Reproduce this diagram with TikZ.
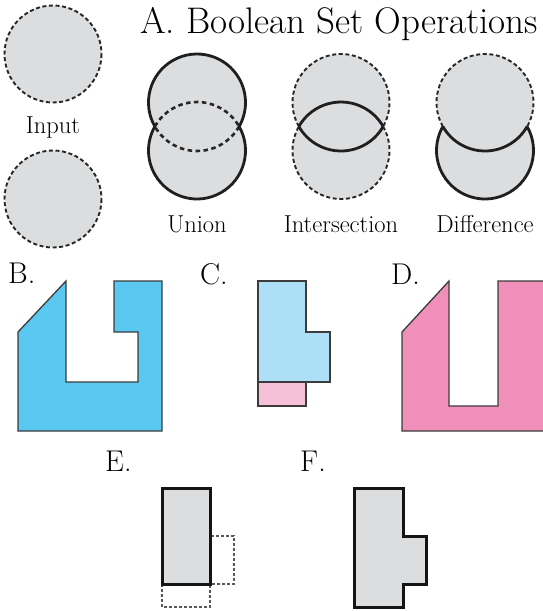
\documentclass[tikz,border=0pt]{standalone}
\definecolor{opgray}{HTML}{DCDDDF}
\definecolor{bblue}{HTML}{5BC8F2}
\definecolor{cblue}{HTML}{ADDFF6}
\definecolor{cpink}{HTML}{F6C0D8}
\definecolor{dpink}{HTML}{F08FBA}
\definecolor{edge}{HTML}{3C3C3C}
\tikzset{
  opfill/.style={fill=opgray},
  inputline/.style={draw=black!85, line width=1.9pt, dash pattern=on 4pt off 2.6pt},
  thinline/.style={draw=black!85, line width=1.9pt, dash pattern=on 4pt off 2.6pt},
  uniondash/.style={draw=black!85, line width=2.6pt, dash pattern=on 4.5pt off 3.5pt},
  solidline/.style={draw=black!88, line width=2.8pt},
  shapeline/.style={draw=edge, line width=1.3pt, line join=miter},
  boldline/.style={draw=black!92, line width=3pt, line join=miter},
  ghostline/.style={draw=black!65, line width=1.1pt, dash pattern=on 3pt off 2pt},
  lbl/.style={font=\fontsize{24.5}{29}\selectfont, anchor=base, inner sep=0pt},
  letter/.style={font=\fontsize{30}{36}\selectfont, anchor=base west, inner sep=0pt},
}
\begin{document}
\begin{tikzpicture}[x=1pt,y=-1pt]
\useasboundingbox (0,0) rectangle (542,611);

% Title
\node[font=\fontsize{37}{44}\selectfont, anchor=base west, inner sep=0pt] (title) at (140,33) {A. Boolean Set Operations};

% Input circles
\draw[opfill, inputline] (53,54) circle[radius=48.5];
\draw[opfill, inputline] (53,199) circle[radius=48.5];
\node[lbl] (input) at (53,133) {Input};

% Union (cx = 197)
\coordinate (uL) at (154.85,126.5);
\coordinate (uR) at (239.15,126.5);
\fill[opfill] (197,102.5) circle[radius=48.5];
\fill[opfill] (197,150.5) circle[radius=48.5];
\draw[uniondash] (uR) arc[start angle=29.66, end angle=150.34, radius=48.5];
\draw[uniondash] (uL) arc[start angle=209.66, end angle=330.34, radius=48.5];
\draw[solidline] (uL) arc[start angle=150.34, end angle=389.66, radius=48.5];
\draw[solidline] (uR) arc[start angle=-29.66, end angle=209.66, radius=48.5];
\node[lbl] (union) at (197,232) {Union};

% Intersection (cx = 341)
\coordinate (iL) at (298.85,126.5);
\coordinate (iR) at (383.15,126.5);
\fill[opfill] (341,102.5) circle[radius=48.5];
\fill[opfill] (341,150.5) circle[radius=48.5];
\draw[thinline] (iL) arc[start angle=150.34, end angle=389.66, radius=48.5];
\draw[thinline] (iR) arc[start angle=-29.66, end angle=209.66, radius=48.5];
\draw[solidline] (iR) arc[start angle=29.66, end angle=150.34, radius=48.5];
\draw[solidline] (iL) arc[start angle=209.66, end angle=330.34, radius=48.5];
\node[lbl] (inter) at (341,232) {Intersection};

% Difference (cx = 485)
\coordinate (dL) at (442.85,126.5);
\coordinate (dR) at (527.15,126.5);
\fill[opfill] (485,102.5) circle[radius=48.5];
\fill[opfill] (485,150.5) circle[radius=48.5];
\draw[thinline] (dL) arc[start angle=150.34, end angle=389.66, radius=48.5];
\draw[solidline] (dR) arc[start angle=29.66, end angle=150.34, radius=48.5];
\draw[solidline] (dR) arc[start angle=-29.66, end angle=209.66, radius=48.5];
\node[lbl] (diff) at (485,232) {Difference};

% B
\node[letter] (labB) at (8,283) {B.};
\draw[shapeline, fill=bblue] (18,332) -- (66,281) -- (66,382) -- (138,382) -- (138,332)
  -- (114,332) -- (114,281) -- (162,281) -- (162,431) -- (18,431) -- cycle;

% C
\node[letter] (labC) at (200,284) {C.};
\draw[shapeline, fill=cpink] (258,382) rectangle (306,406);
\draw[shapeline, fill=cblue] (258,281) -- (306,281) -- (306,332) -- (330,332) -- (330,382)
  -- (258,382) -- cycle;

% D
\node[letter] (labD) at (391,284) {D.};
\draw[shapeline, fill=dpink] (402,332) -- (449,281) -- (449,406) -- (498,406) -- (498,281)
  -- (547,281) -- (547,431) -- (402,431) -- cycle;

% E
\node[letter] (labE) at (105,471) {E.};
\draw[ghostline] (210,536) rectangle (234,584);
\draw[ghostline] (162,584) rectangle (210,607);
\draw[boldline, fill=opgray] (162,488) rectangle (210,584);

% F
\node[letter] (labF) at (300,471) {F.};
\draw[boldline, fill=opgray] (354,488) -- (403,488) -- (403,536) -- (426,536) -- (426,584)
  -- (403,584) -- (403,607) -- (354,607) -- cycle;
\end{tikzpicture}
\end{document}
